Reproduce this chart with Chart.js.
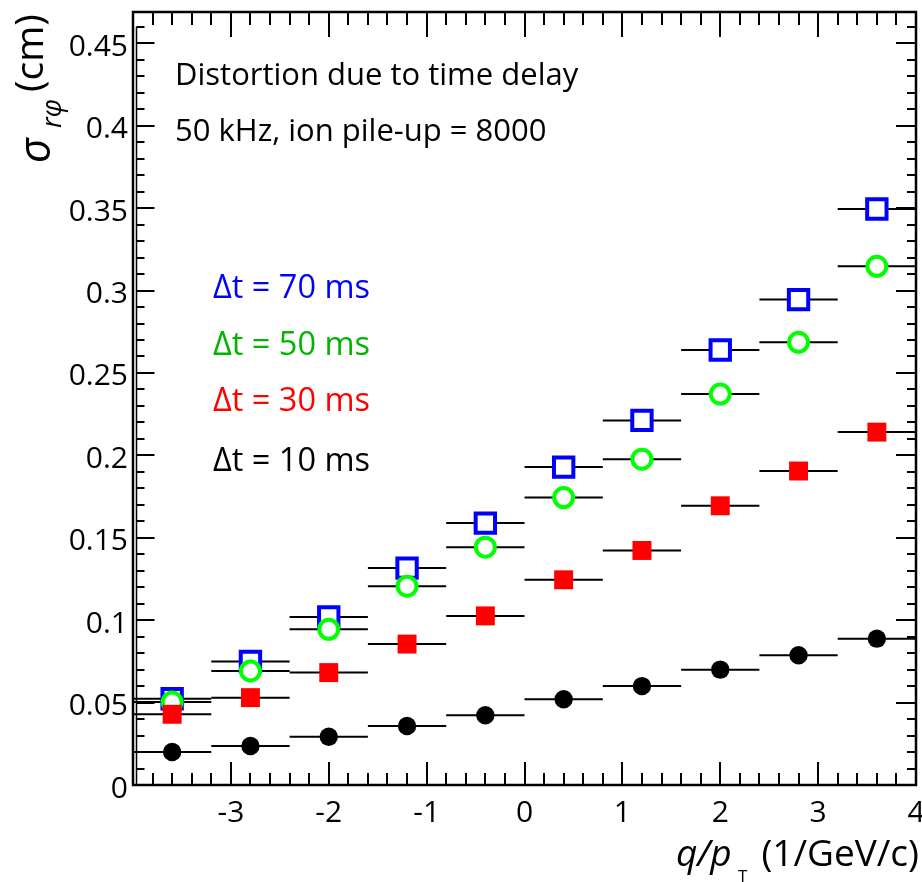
<!DOCTYPE html>
<html>
<head>
<meta charset="utf-8">
<script src="https://cdn.jsdelivr.net/npm/chart.js@4/dist/chart.umd.min.js"></script>
<style>
  html, body { margin: 0; padding: 0; background: #fff; }
  #wrap { width: 922px; height: 882px; }
</style>
</head>
<body>
<div id="wrap"><canvas id="c" width="922" height="882"></canvas></div>
<script>
// ---- data ----
const binCenters = [-3.6, -2.8, -2.0, -1.2, -0.4, 0.4, 1.2, 2.0, 2.8, 3.6];
const binHalfWidth = 0.4;
const dt10 = [0.0200, 0.0237, 0.0293, 0.0358, 0.0423, 0.0520, 0.0600, 0.0700, 0.0787, 0.0888];
const dt30 = [0.0429, 0.0530, 0.0682, 0.0855, 0.1026, 0.1245, 0.1423, 0.1694, 0.1905, 0.2141];
const dt50 = [0.0503, 0.0692, 0.0945, 0.1206, 0.1443, 0.1744, 0.1977, 0.2372, 0.2686, 0.3147];
const dt70 = [0.0523, 0.0749, 0.1020, 0.1316, 0.1589, 0.1929, 0.2212, 0.2639, 0.2945, 0.3495];
const xTickValues = [-3, -2, -1, 0, 1, 2, 3, 4];
const xTickLabels = ['-3', '-2', '-1', '0', '1', '2', '3', '4'];
const yTickValues = [0, 0.05, 0.1, 0.15, 0.2, 0.25, 0.3, 0.35, 0.4, 0.45];
const yTickLabels = ['0', '0.05', '0.1', '0.15', '0.2', '0.25', '0.3', '0.35', '0.4', '0.45'];
const legendLabels = ['\u0394t = 70 ms', '\u0394t = 50 ms', '\u0394t = 30 ms', '\u0394t = 10 ms'];
const legendColors = ['#0000ff', '#00b400', '#ff0000', '#000000'];
const infoLines = ['Distortion due to time delay', '50 kHz, ion pile-up = 8000'];

const FONT = '"Open Sans", "DejaVu Sans", sans-serif';

function pts(vals) { return binCenters.map((x, i) => ({ x: x, y: vals[i] })); }
function errBars(vals) {
  const out = [];
  binCenters.forEach((x, i) => {
    out.push({ x: x - binHalfWidth, y: vals[i] });
    out.push({ x: x + binHalfWidth, y: vals[i] });
    out.push({ x: x + binHalfWidth, y: null });
  });
  return out;
}
function errDataset(vals) {
  return { type: 'line', data: errBars(vals), borderColor: '#000', borderWidth: 2,
           pointRadius: 0, spanGaps: false, tension: 0, fill: false, order: 10 };
}

const framePlugin = {
  id: 'frame',
  afterDatasetsDraw(chart) {
    const ctx = chart.ctx, a = chart.chartArea;
    const xs = chart.scales.x, ys = chart.scales.y;
    ctx.save();
    ctx.strokeStyle = '#000';
    // frame
    ctx.lineWidth = 2.5;
    ctx.strokeRect(a.left, a.top, a.right - a.left, a.bottom - a.top);
    // inner y axis line (0 .. 0.46)
    const yAxisX = a.left + 3.5;
    ctx.lineWidth = 1.5;
    ctx.beginPath();
    ctx.moveTo(yAxisX, ys.getPixelForValue(0));
    ctx.lineTo(yAxisX, ys.getPixelForValue(0.46));
    ctx.stroke();
    // y ticks
    ctx.lineWidth = 2;
    ctx.beginPath();
    for (let k = 0; k <= 46; k++) {
      const py = Math.round(ys.getPixelForValue(k / 100));
      const major = k % 5 === 0;
      ctx.moveTo(yAxisX, py); ctx.lineTo(yAxisX + (major ? 18 : 8), py);
      ctx.moveTo(a.right, py); ctx.lineTo(a.right - (major ? 20 : 9), py);
    }
    // x ticks
    for (let k = -20; k <= 20; k++) {
      const px = Math.round(xs.getPixelForValue(k / 5));
      const major = k % 5 === 0;
      ctx.moveTo(px, a.bottom); ctx.lineTo(px, a.bottom - (major ? 23 : 12));
      ctx.moveTo(px, a.top); ctx.lineTo(px, a.top + (major ? 25 : 13));
    }
    ctx.stroke();

    // tick labels
    ctx.fillStyle = '#000';
    ctx.font = '30px ' + FONT;
    ctx.textBaseline = 'alphabetic';
    ctx.textAlign = 'right';
    yTickValues.forEach((v, i) => {
      ctx.fillText(yTickLabels[i], 128, ys.getPixelForValue(v) + 12.5);
    });
    ctx.textAlign = 'center';
    xTickValues.forEach((v, i) => {
      ctx.fillText(xTickLabels[i], xs.getPixelForValue(v), 822);
    });

    // info text
    ctx.textAlign = 'left';
    ctx.font = '31px ' + FONT;
    ctx.fillText(infoLines[0], 175, 85);
    ctx.fillText(infoLines[1], 175, 141);

    // legend text
    ctx.font = '32.5px ' + FONT;
    const lb = [298, 355, 411, 471];
    legendLabels.forEach((t, i) => {
      ctx.fillStyle = legendColors[i];
      ctx.fillText(t, 213, lb[i]);
    });

    // x axis title
    ctx.fillStyle = '#000';
    ctx.textAlign = 'right';
    ctx.font = '37px ' + FONT;
    ctx.fillText('(1/GeV/c)', 919, 866);
    ctx.textAlign = 'left';
    ctx.font = 'italic 37px ' + FONT;
    ctx.fillText('q/p', 676, 866);
    ctx.font = '17px ' + FONT;
    ctx.fillText('T', 738, 882);

    // y axis title (rotated)
    ctx.save();
    ctx.translate(0, 163);
    ctx.rotate(-Math.PI / 2);
    ctx.textAlign = 'left';
    ctx.font = 'italic 43px ' + FONT;
    ctx.fillText('\u03c3', 0, 50);
    ctx.font = 'italic 27px ' + FONT;
    ctx.fillText('r\u03c6', 35, 61);
    ctx.font = '39px ' + FONT;
    ctx.fillText('(cm)', 71, 43);
    ctx.restore();

    ctx.restore();
  }
};

const chart = new Chart(document.getElementById('c'), {
  type: 'scatter',
  data: {
    datasets: [
      { label: 'dt10', data: pts(dt10), pointStyle: 'circle', pointRadius: 9.2,
        backgroundColor: '#000', borderColor: '#000', borderWidth: 0, order: 0 },
      { label: 'dt30', data: pts(dt30), pointStyle: 'rect', pointRadius: 13.4,
        backgroundColor: '#ff0000', borderColor: '#ff0000', borderWidth: 0, order: 1 },
      { label: 'dt50', data: pts(dt50), pointStyle: 'circle', pointRadius: 9.5,
        backgroundColor: '#fff', borderColor: '#00ff00', borderWidth: 4, order: 2 },
      { label: 'dt70', data: pts(dt70), pointStyle: 'rect', pointRadius: 13.7,
        backgroundColor: '#fff', borderColor: '#0000ff', borderWidth: 4, order: 3 },
      errDataset(dt10), errDataset(dt30), errDataset(dt50), errDataset(dt70)
    ]
  },
  options: {
    responsive: false,
    animation: false,
    devicePixelRatio: 1,
    layout: { autoPadding: false, padding: { top: 12, right: 6, left: 0, bottom: 0 } },
    plugins: { legend: { display: false }, tooltip: { enabled: false } },
    elements: { point: { hoverRadius: 0 } },
    scales: {
      x: {
        type: 'linear', min: -4, max: 4,
        grid: { display: false, drawTicks: false },
        border: { display: false },
        ticks: { display: false, stepSize: 1 },
        afterFit: (s) => { s.height = 97; }
      },
      y: {
        type: 'linear', min: 0, max: 0.469,
        grid: { display: false, drawTicks: false },
        border: { display: false },
        ticks: { display: false, stepSize: 0.05 },
        afterFit: (s) => { s.width = 133; }
      }
    }
  },
  plugins: [framePlugin]
});
</script>
</body>
</html>
